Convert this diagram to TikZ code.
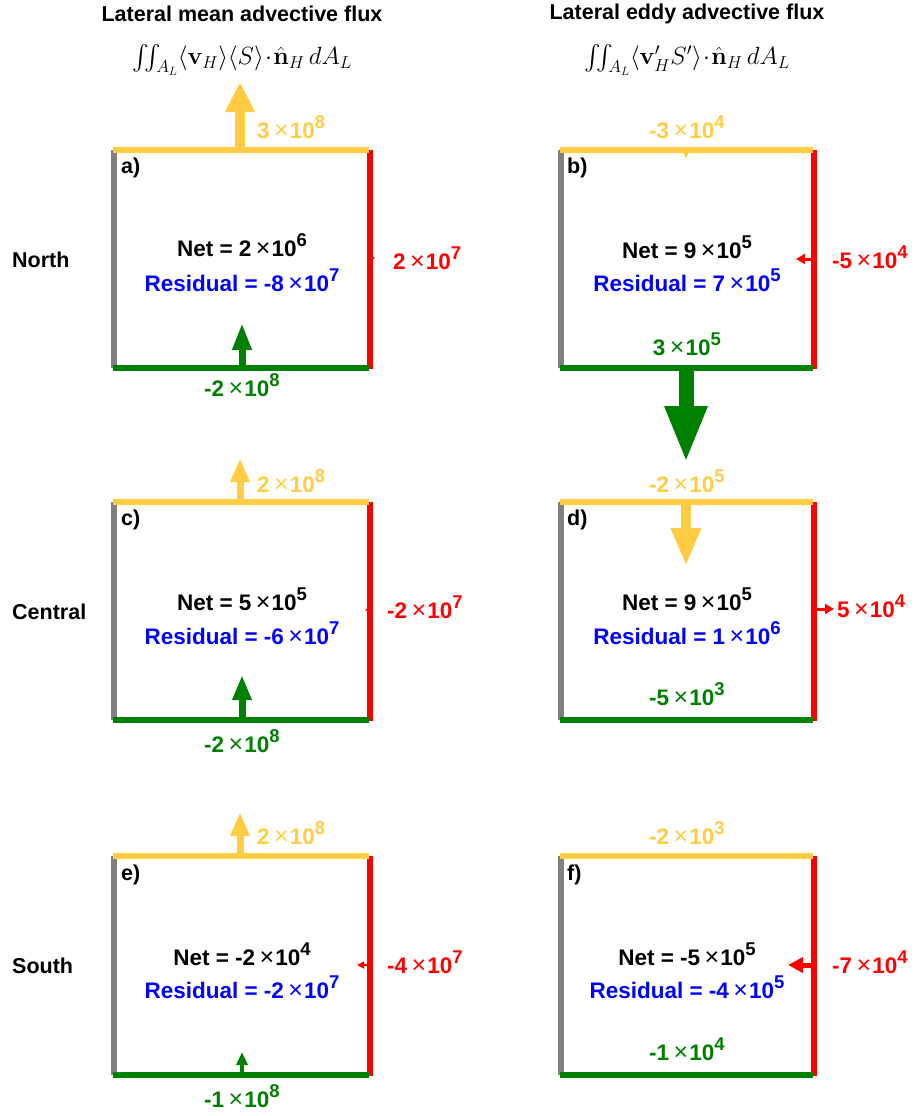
\documentclass[tikz,border=0pt]{standalone}
\usepackage{amsmath}
\usepackage[no-math]{fontspec}
\setmainfont{Liberation Sans}
\usetikzlibrary{arrows.meta}
\definecolor{cyel}{RGB}{255,204,68}
\definecolor{cgrn}{RGB}{0,128,0}
\definecolor{cred}{RGB}{255,0,0}
\definecolor{cgry}{RGB}{128,128,128}
\definecolor{cblu}{RGB}{0,0,255}
\newcommand\sci[2]{#1\hspace{0.2em}{\mdseries\fontsize{25}{25}\selectfont ×}\hspace{0.05em}10\raisebox{0.45em}{\fontsize{18.5}{18.5}\selectfont #2}}
\begin{document}
\begin{tikzpicture}[x=1pt,y=-1pt,
  every node/.style={font=\fontsize{22.5}{24}\selectfont\bfseries, inner sep=0pt},
  head/.style={font=\fontsize{21.5}{24}\selectfont\bfseries},
  edge/.style={line width=6pt},
]
\useasboundingbox (0,0) rectangle (918,1116);

% headings
\node[head] (h1) at (242,14) {Lateral mean advective flux};
\node[head] (h2) at (687,14) {Lateral eddy advective flux};
\node[font=\fontsize{25}{25}\selectfont] (f1) at (242,60) {$\iint_{A_L}\langle\mathbf{v}_H\rangle\langle S\rangle\!\cdot\!\hat{\mathbf{n}}_H\,dA_L$};
\node[font=\fontsize{25}{25}\selectfont] (f2) at (687,60) {$\iint_{A_L}\langle\mathbf{v}'_HS'\rangle\!\cdot\!\hat{\mathbf{n}}_H\,dA_L$};

% row labels
\node[head, anchor=west] (rn) at (12,260) {North};
\node[head, anchor=west] (rc) at (12,612) {Central};
\node[head, anchor=west] (rs) at (12,966) {South};

% panels: edges
\foreach \L/\R in {114/370, 561/814}{
  \foreach \T/\B in {150/368, 502/720, 856/1075}{
    \draw[edge, cgry] (\L,\T) -- (\L,\B);
    \draw[edge, cred] (\R,\T) -- (\R,\B+1);
    \draw[edge, cyel] (\L-1,\T) -- (\R-1,\T);
    \draw[edge, cgrn] (\L-1,\B) -- (\R-1,\B);
  }
}

% panel letters
\node[head, anchor=west] (pa) at (121,168) {a)};
\node[head, anchor=west] (pb) at (567,168) {b)};
\node[head, anchor=west] (pc) at (121,520) {c)};
\node[head, anchor=west] (pd) at (567,520) {d)};
\node[head, anchor=west] (pe) at (121,875) {e)};
\node[head, anchor=west] (pf) at (567,875) {f)};

% net / residual
\node (na) at (242,245) {Net = \sci{2}{6}};
\node[text=cblu] (ra) at (242,280) {Residual = \sci{-8}{7}};
\node (nb) at (687,247) {Net = \sci{9}{5}};
\node[text=cblu] (rb) at (687,280) {Residual = \sci{7}{5}};
\node (nc) at (242,599) {Net = \sci{5}{5}};
\node[text=cblu] (rcc) at (242,633) {Residual = \sci{-6}{7}};
\node (nd) at (687,599) {Net = \sci{9}{5}};
\node[text=cblu] (rd) at (687,633) {Residual = \sci{1}{6}};
\node (ne) at (242,954) {Net = \sci{-2}{4}};
\node[text=cblu] (re) at (242,987) {Residual = \sci{-2}{7}};
\node (nf) at (687,954) {Net = \sci{-5}{5}};
\node[text=cblu] (rf) at (687,987) {Residual = \sci{-4}{5}};

% arrows (fat)
\tikzset{farr/.style n args={3}{line width=#1pt, -{Triangle[length=#2pt,width=#3pt]}}}
% a
\draw[cyel, farr={10}{30}{28}] (240,150) -- (240,82);
\draw[cgrn, farr={7}{27}{18}] (242,368) -- (242,323);
\draw[cred, farr={1.5}{4}{4}] (370,258) -- (375,258);
% c
\draw[cyel, farr={7}{24}{18}] (240,502) -- (240,458);
\draw[cgrn, farr={7}{25}{18}] (242,720) -- (242,675);
\draw[cred, farr={1.5}{4}{4}] (370,610) -- (365,610);
% e
\draw[cyel, farr={7}{24}{18}] (240,856) -- (240,812);
\draw[cgrn, farr={4}{13}{11}] (242,1075) -- (242,1052);
\draw[cred, farr={2}{7}{7}] (370,965) -- (357,965);
% b
\draw[cyel, farr={1.5}{5}{5}] (686,150) -- (686,158);
\draw[cred, farr={3}{9}{10}] (814,259) -- (796,259);
\draw[cgrn, farr={15}{57}{39}] (686,368) -- (686,463);
% d
\draw[cyel, farr={10}{38}{28}] (686,502) -- (686,566);
\draw[cred, farr={3}{9}{10}] (814,609) -- (834,609);
% f
\draw[cred, farr={5}{15}{15}] (814,965) -- (788,965);

% flux labels
\node[anchor=west, text=cyel] (ya) at (257,127) {\sci{3}{8}};
\node[text=cgrn] (ga) at (242,385) {\sci{-2}{8}};
\node[anchor=west, text=cred] (qa) at (393,258) {\sci{2}{7}};
\node[text=cyel] (yb) at (687,127) {\sci{-3}{4}};
\node[text=cgrn] (gb) at (687,344) {\sci{3}{5}};
\node[anchor=west, text=cred] (qb) at (832,257) {\sci{-5}{4}};
\node[anchor=west, text=cyel] (yc) at (257,481) {\sci{2}{8}};
\node[text=cgrn] (gc) at (242,741) {\sci{-2}{8}};
\node[anchor=west, text=cred] (qc) at (387,607) {\sci{-2}{7}};
\node[text=cyel] (yd) at (687,481) {\sci{-2}{5}};
\node[text=cgrn] (gd) at (687,694) {\sci{-5}{3}};
\node[anchor=west, text=cred] (qd) at (837,606) {\sci{5}{4}};
\node[anchor=west, text=cyel] (ye) at (257,833) {\sci{2}{8}};
\node[text=cgrn] (ge) at (242,1096) {\sci{-1}{8}};
\node[anchor=west, text=cred] (qe) at (387,962) {\sci{-4}{7}};
\node[text=cyel] (yf) at (687,833) {\sci{-2}{3}};
\node[text=cgrn] (gf) at (687,1049) {\sci{-1}{4}};
\node[anchor=west, text=cred] (qf) at (832,962) {\sci{-7}{4}};
\end{tikzpicture}
\end{document}
